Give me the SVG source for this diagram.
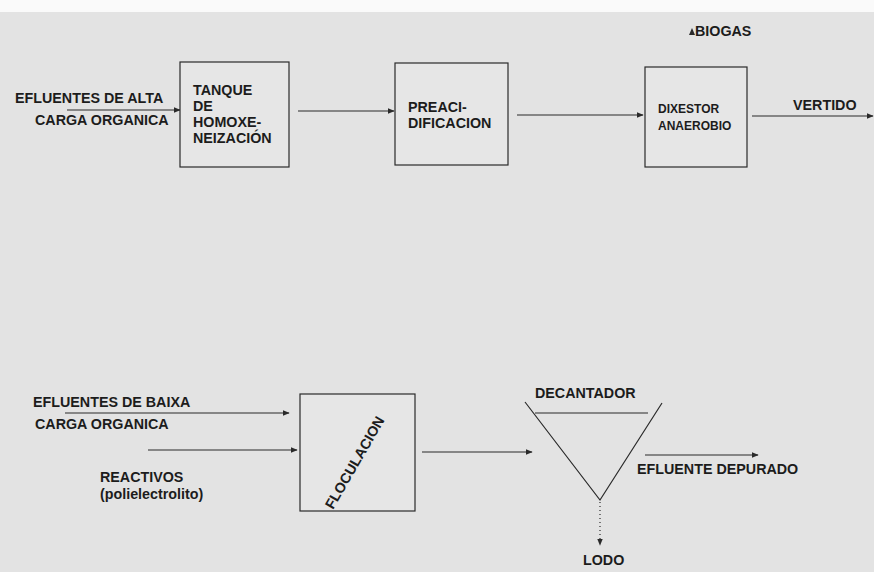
<svg xmlns="http://www.w3.org/2000/svg" width="874" height="572" viewBox="0 0 874 572">
<style>
text{font-family:"Liberation Sans",Arial,sans-serif;font-weight:bold;font-size:14.3px;fill:#1c1c1c}
.box{fill:#e6e6e6;stroke:#2a2a2a;stroke-width:1.2}
.ln{stroke:#2a2a2a;stroke-width:1.2;fill:none}
.sm{font-size:12px}
</style>
<defs>
<marker id="ah" viewBox="0 0 10 10" refX="9" refY="5" markerWidth="7" markerHeight="7" markerUnits="userSpaceOnUse" orient="auto">
<path d="M0,1 L10,5 L0,9 Z" fill="#2a2a2a"/>
</marker>
</defs>
<rect x="0" y="0" width="874" height="572" fill="#e3e3e3"/>
<rect x="0" y="0" width="874" height="12" fill="#fafafa"/>

<g id="connectors">
<line class="ln" x1="67" y1="110" x2="180" y2="110" marker-end="url(#ah)"/>
<line class="ln" x1="298" y1="111" x2="394" y2="111" marker-end="url(#ah)"/>
<line class="ln" x1="517" y1="115" x2="643" y2="115" marker-end="url(#ah)"/>
<line class="ln" x1="752" y1="116" x2="873" y2="116" marker-end="url(#ah)"/>
<path d="M689,35 L692,28 L695,35 Z" fill="#2a2a2a"/>
<line class="ln" x1="65" y1="413" x2="289" y2="413" marker-end="url(#ah)"/>
<line class="ln" x1="148" y1="450" x2="297" y2="450" marker-end="url(#ah)"/>
<line class="ln" x1="422" y1="452" x2="532" y2="452" marker-end="url(#ah)"/>
<line class="ln" x1="645" y1="455" x2="758" y2="455" marker-end="url(#ah)"/>
<line class="ln" x1="600" y1="502" x2="600" y2="545" stroke-dasharray="1,3" marker-end="url(#ah)"/>
</g>

<g id="in-alta">
<text x="15" y="103">EFLUENTES DE ALTA</text>
<text x="35" y="125">CARGA ORGANICA</text>
</g>

<g id="tanque">
<rect class="box" x="180" y="62" width="109" height="105"/>
<text x="193" y="95">TANQUE</text>
<text x="193" y="111">DE</text>
<text x="193" y="127">HOMOXE-</text>
<text x="193" y="143">NEIZACIÓN</text>
</g>

<g id="preacidificacion">
<rect class="box" x="395" y="63" width="113" height="102"/>
<text x="408" y="112">PREACI-</text>
<text x="408" y="128">DIFICACION</text>
</g>

<g id="dixestor">
<rect class="box" x="645" y="67" width="102" height="100"/>
<text class="sm" x="658" y="113">DIXESTOR</text>
<text class="sm" x="658" y="130">ANAEROBIO</text>
</g>

<g id="biogas">
<text x="695" y="36">BIOGAS</text>
</g>

<g id="vertido">
<text x="793" y="110">VERTIDO</text>
</g>

<g id="in-baixa">
<text x="33" y="407">EFLUENTES DE BAIXA</text>
<text x="35" y="429">CARGA ORGANICA</text>
</g>

<g id="reactivos">
<text x="100" y="482">REACTIVOS</text>
<text x="100" y="499">(polielectrolito)</text>
</g>

<g id="floculacion">
<rect class="box" x="300" y="394" width="115" height="117"/>
<text x="0" y="0" text-anchor="middle" transform="translate(359,465) rotate(-60)">FLOCULACION</text>
</g>

<g id="decantador">
<path class="ln" d="M525,402 L600,500 L662,403"/>
<line class="ln" x1="535" y1="413" x2="648" y2="413"/>
<text x="535" y="398">DECANTADOR</text>
</g>

<g id="efluente-depurado">
<text x="637" y="474">EFLUENTE DEPURADO</text>
</g>

<g id="lodo">
<text x="583" y="565">LODO</text>
</g>
</svg>
